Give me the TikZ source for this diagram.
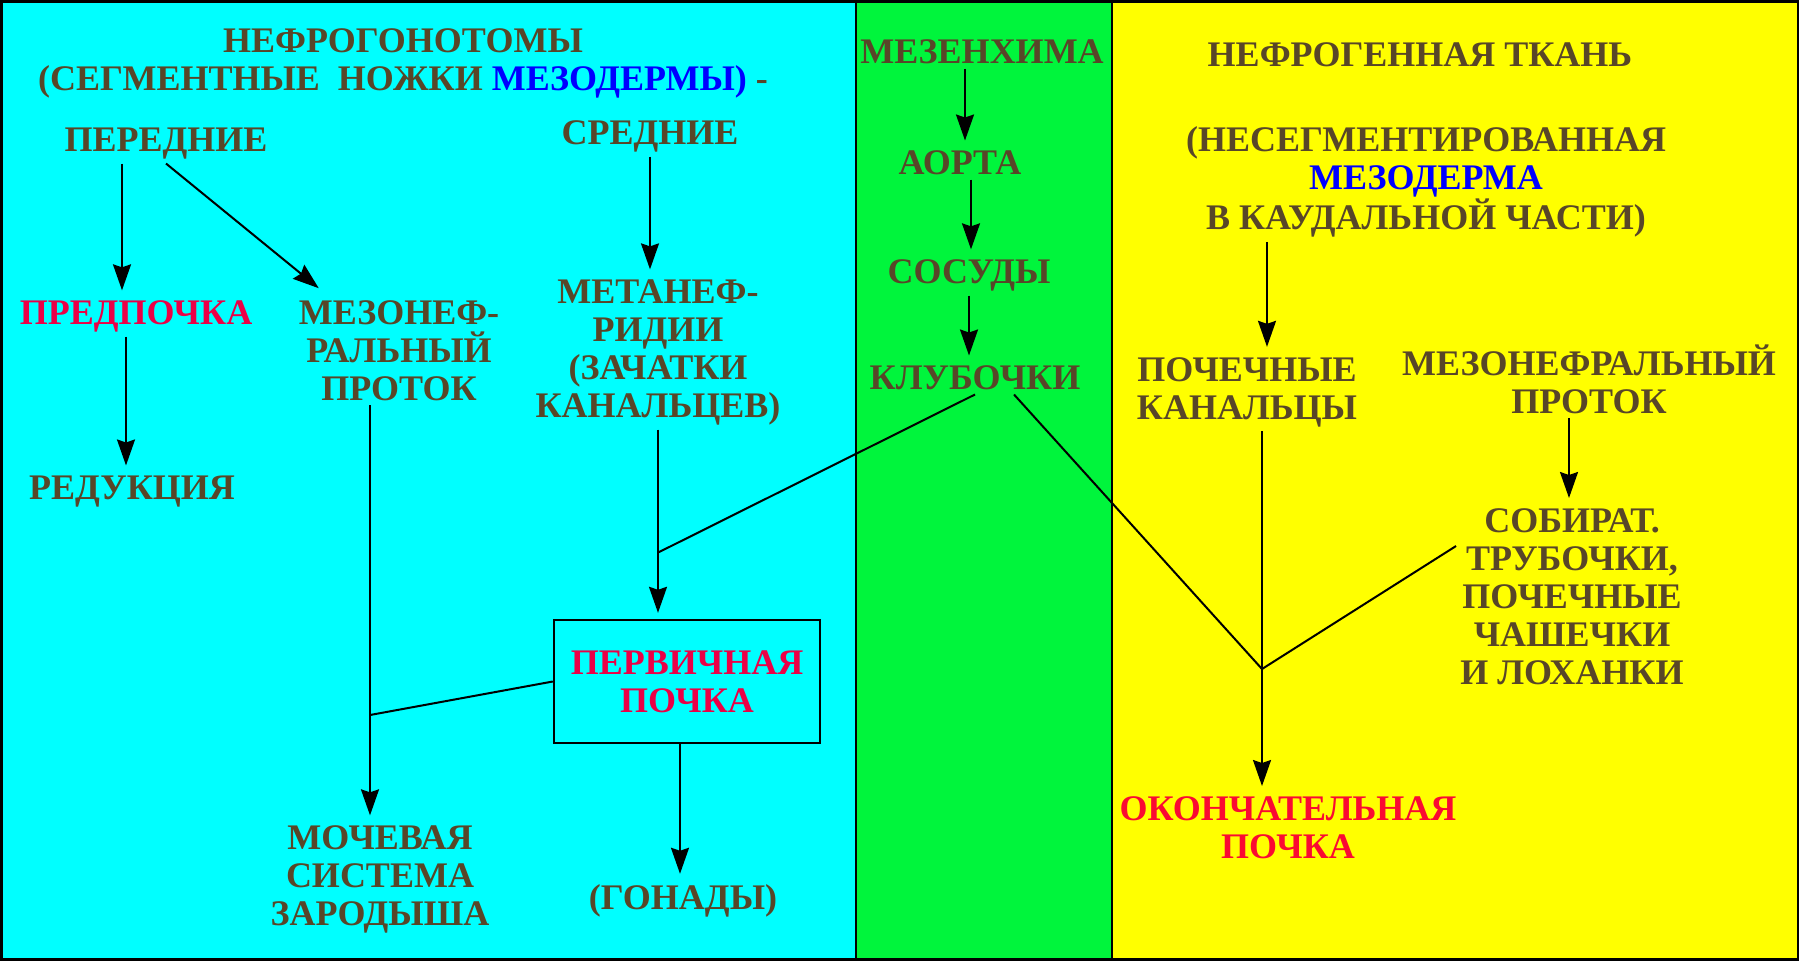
\documentclass[tikz,border=0pt]{standalone}
\usepackage{fontspec}
\setmainfont{Liberation Serif}
\usetikzlibrary{arrows.meta,positioning,calc}

\definecolor{panelcyan}{RGB}{0,255,255}
\definecolor{panelgreen}{RGB}{0,245,60}
\definecolor{panelyellow}{RGB}{255,255,0}
\definecolor{txtbrown}{RGB}{88,70,40}
\definecolor{txtred}{RGB}{235,0,70}
\definecolor{okred}{RGB}{250,10,50}
\definecolor{txtblue}{RGB}{0,0,255}

\tikzset{
  lbl/.style={font=\fontsize{18}{19}\selectfont\bfseries, text=txtbrown, align=center, inner sep=2pt},
  redlbl/.style={lbl, text=txtred},
  arr/.style={-{Stealth[length=13pt,width=9pt,inset=1.5pt]}, line width=1pt, shorten >=3pt},
  conn/.style={line width=1pt},
}

\begin{document}
\begin{tikzpicture}[x=0.5pt,y=-0.5pt]
    \useasboundingbox (0,0) rectangle (1799,960);
    % panels
    \fill[panelcyan] (0,0) rectangle (856,960);
    \fill[panelgreen] (856,0) rectangle (1112,960);
    \fill[panelyellow] (1112,0) rectangle (1799,960);
    \draw[line width=1pt] (856,0) -- (856,960) (1112,0) -- (1112,960);
    \draw[line width=2.5pt] (0,0) rectangle (1799,960);

    % left panel
    \node[lbl] (hdrL) at (403,63.5) {НЕФРОГОНОТОМЫ\\(СЕГМЕНТНЫЕ\ \ НОЖКИ \textcolor{txtblue}{МЕЗОДЕРМЫ)} -};
    \node[lbl] (per) at (166,143.5) {ПЕРЕДНИЕ};
    \node[lbl] (sred) at (650,136.5) {СРЕДНИЕ};
    \node[redlbl] (pred) at (136,316.5) {ПРЕДПОЧКА};
    \node[lbl] (mezo) at (399,350.5) {МЕЗОНЕФ-\\РАЛЬНЫЙ\\ПРОТОК};
    \node[lbl] (redu) at (132,491.5) {РЕДУКЦИЯ};
    \node[lbl] (meta) at (658,352.5) {МЕТАНЕФ-\\РИДИИ\\(ЗАЧАТКИ\\КАНАЛЬЦЕВ)};
    \node[redlbl, draw=black, line width=1.2pt, minimum width=133pt, minimum height=61.5pt] (perv) at (687,681.5) {ПЕРВИЧНАЯ\\ПОЧКА};
    \node[lbl] (moch) at (380,879.5) {МОЧЕВАЯ\\СИСТЕМА\\ЗАРОДЫША};
    \node[lbl] (gon) at (683,900.5) {(ГОНАДЫ)};

    % middle panel
    \node[lbl] (mez) at (982,52) {МЕЗЕНХИМА};
    \node[lbl] (aorta) at (960,163) {АОРТА};
    \node[lbl] (sos) at (969,275.5) {СОСУДЫ};
    \node[lbl] (klub) at (975,378) {КЛУБОЧКИ};

    % right panel
    \node[lbl] (hdrR) at (1420,55) {НЕФРОГЕННАЯ ТКАНЬ};
    \node[lbl] (neseg) at (1426,182) {(НЕСЕГМЕНТИРОВАННАЯ\\\textcolor{txtblue}{МЕЗОДЕРМА}\\В КАУДАЛЬНОЙ ЧАСТИ)};
    \node[lbl] (pkan) at (1247,392) {ПОЧЕЧНЫЕ\\КАНАЛЬЦЫ};
    \node[lbl] (mprot) at (1589,379) {МЕЗОНЕФРАЛЬНЫЙ\\ПРОТОК};
    \node[lbl] (sob) at (1572,596.5) {СОБИРАТ.\\ТРУБОЧКИ,\\ПОЧЕЧНЫЕ\\ЧАШЕЧКИ\\И ЛОХАНКИ};
    \node[redlbl, text=okred] (okon) at (1288,827.5) {ОКОНЧАТЕЛЬНАЯ\\ПОЧКА};

    % start points and junctions
    \coordinate (perL) at ([xshift=-22pt]per.south);
    \coordinate (predL) at ([xshift=-5pt]pred.south);
    \coordinate (mezoL) at ([xshift=-14.5pt]mezo.south);
    \coordinate (pervL) at ([xshift=-3.5pt]perv.south);
    \coordinate (mezL) at ([xshift=-8.5pt]mez.south);
    \coordinate (aortaR) at ([xshift=5.5pt]aorta.south);
    \coordinate (klubR) at ([xshift=19.5pt]klub.south);
    \coordinate (nesegL) at ([xshift=-79.5pt]neseg.south);
    \coordinate (pkanR) at ([xshift=7.5pt]pkan.south);
    \coordinate (mprotL) at ([xshift=-10pt]mprot.south);
    \coordinate (j1) at ($(meta.south)!0.65!(perv.north -| meta.south)$);
    \coordinate (j2) at (370,715);
    \coordinate (v) at (1262,669);

    % arrows
    \draw[arr] (perL) -- (perL |- pred.north);
    \draw[arr] (per.south) -- ($(mezo.north west)+(29,-4)$);
    \draw[arr] (predL) -- (predL |- redu.north);
    \draw[arr] (sred.south) -- (sred.south |- meta.north);
    \draw[arr] (meta.south) -- (perv.north -| meta.south);
    \draw[arr] (mezoL) -- (mezoL |- moch.north);
    \draw[arr] (pervL) -- (pervL |- gon.north);
    \draw[arr] (mezL) -- (mezL |- aorta.north);
    \draw[arr] (aortaR) -- (aortaR |- sos.north);
    \draw[arr] (sos.south) -- (sos.south |- klub.north);
    \draw[arr] (nesegL) -- (nesegL |- pkan.north);
    \draw[arr] (pkanR) -- (pkanR |- okon.north);
    \draw[arr] (mprotL) -- (mprotL |- sob.north);

    % plain connectors
    \draw[conn] (klub.south) -- (j1);
    \draw[conn] (perv.west) -- (j2);
    \draw[conn] (klubR) -- (v);
    \draw[conn] ([yshift=-21pt]sob.north west) -- (v);
\end{tikzpicture}
\end{document}
